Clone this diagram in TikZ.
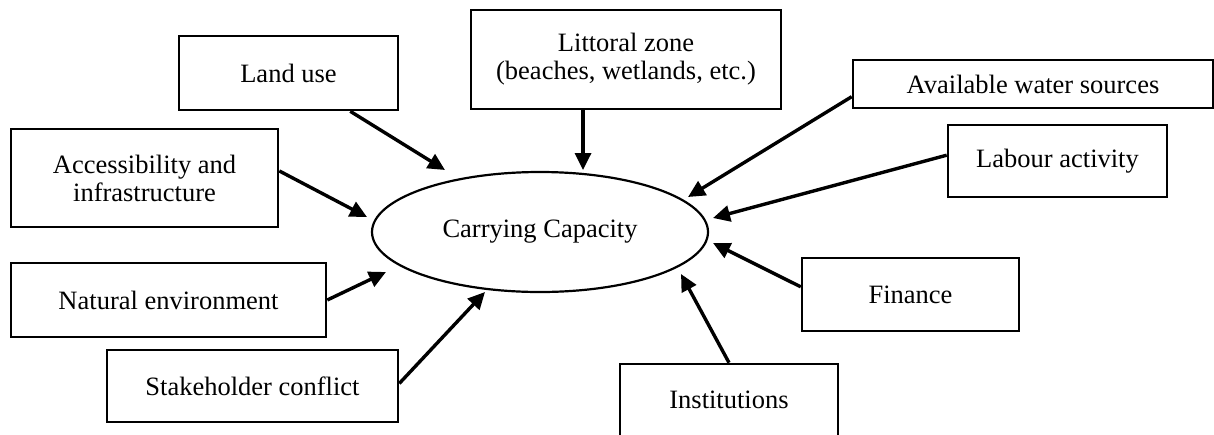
\documentclass[tikz,border=0pt]{standalone}
\usepackage{fontspec}
\setmainfont{Liberation Serif}
\usetikzlibrary{shapes.geometric,arrows.meta}
\newcommand\myfs{\fontsize{13.25}{14}\selectfont}
\begin{document}
\begin{tikzpicture}[x=0.5pt,y=-0.5pt,
  box/.style={draw, line width=1.3pt, inner sep=0pt, align=center, font=\myfs},
  arr/.style={line width=1.7pt, -{Triangle[length=8.5pt,width=8pt]}}]
\useasboundingbox (0,0) rectangle (1214,434);
% boxes
\node[box, minimum width=109.5pt, minimum height=37pt] (lu) at (288.5,73) {Land use};
\node[box, minimum width=155pt, minimum height=49.5pt] (lz) at (626,59.5) {Littoral zone\\(beaches, wetlands, etc.)};
\node[box, minimum width=180pt, minimum height=24pt] (aw) at (1033,84) {Available water sources};
\node[box, minimum width=109.5pt, minimum height=36pt] (la) at (1057.5,161) {Labour activity};
\node[box, minimum width=133.5pt, minimum height=49pt] (acc) at (144.5,178) {Accessibility and\\infrastructure};
\node[box, minimum width=157.5pt, minimum height=37pt] (ne) at (168.5,300) {Natural environment};
\node[box, minimum width=145.5pt, minimum height=36pt] (sc) at (252.5,386) {Stakeholder conflict};
\node[box, minimum width=108.5pt, minimum height=36.5pt] (fi) at (910.5,294.5) {Finance};
\node[box, minimum width=109pt, minimum height=36pt] (in) at (729,400) {Institutions};
% ellipse
\node[draw, ellipse, line width=1.1pt, inner sep=0pt, minimum width=168pt, minimum height=60pt, font=\myfs] (cc) at (540,232) {Carrying Capacity};
% arrow tips
\coordinate (tlu) at (445,170);
\coordinate (tlz) at (583,170);
\coordinate (taw) at (688,197);
\coordinate (tla) at (713,218);
\coordinate (tfi) at (713,243);
\coordinate (tin) at (681,274);
\coordinate (tsc) at (485,292);
\coordinate (tne) at (386,272);
\coordinate (tacc) at (367,217);
% arrows
\draw[arr] (lu) -- (tlu);
\draw[arr] (tlz |- lz.south) -- (tlz);
\draw[arr] (aw.184.45) -- (taw);
\draw[arr] (la.177.9) -- (tla);
\draw[arr] (fi.176) -- (tfi);
\draw[arr] (in.north) -- (tin);
\draw[arr] (sc.1.2) -- (tsc);
\draw[arr] (ne.east) -- (tne);
\draw[arr] (acc.3.4) -- (tacc);
\end{tikzpicture}
\end{document}
